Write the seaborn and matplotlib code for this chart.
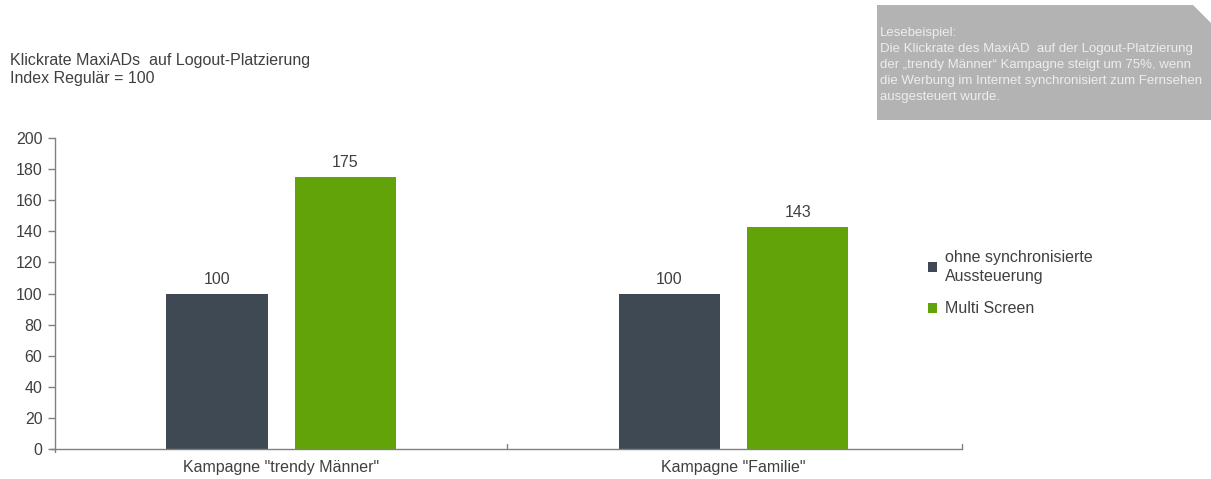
import matplotlib
matplotlib.use("Agg")
import matplotlib.pyplot as plt
import seaborn as sns
import pandas as pd
from matplotlib.patches import Polygon

categories = ['Kampagne "trendy Männer"', 'Kampagne "Familie"']
series_names = ["ohne synchronisierte\nAussteuerung", "Multi Screen"]
values_ohne = [100, 100]
values_multi = [175, 143]
yticks = [0, 20, 40, 60, 80, 100, 120, 140, 160, 180, 200]
colors = ["#3F4953", "#62A30A"]

sns.set_theme(style="white")
plt.rcParams["font.family"] = ["Liberation Sans", "DejaVu Sans"]

df = pd.DataFrame({
    "cat": categories * 2,
    "series": [series_names[0]] * 2 + [series_names[1]] * 2,
    "val": values_ohne + values_multi,
})

fig = plt.figure(figsize=(12.11, 4.79), dpi=100)
ax = fig.add_axes([0.0454, 0.0626, 0.749, 0.6493])

sns.barplot(data=df, x="cat", y="val", hue="series", palette=colors,
            width=0.567, gap=0.21, ax=ax, saturation=1, errorbar=None,
            linewidth=0, edgecolor="none")

for c in ax.containers:
    ax.bar_label(c, fmt="%d", padding=5, fontsize=11.5, color="#404040")

ax.set_ylim(0, 200)
ax.set_xlim(-0.5, 1.505)
ax.set_yticks(yticks)
ax.set_xticks([0, 1])
ax.set_xticklabels(categories)
ax.set_xlabel("")
ax.set_ylabel("")
for s in ["top", "right"]:
    ax.spines[s].set_visible(False)
for s in ["left", "bottom"]:
    ax.spines[s].set_color("#808080")
    ax.spines[s].set_linewidth(1.0)
ax.spines["bottom"].set_bounds(-0.508, 1.505)
ax.tick_params(axis="y", which="both", left=True, length=5, width=1, color="#808080",
               labelsize=11.5, labelcolor="#404040", pad=4)
ax.tick_params(axis="x", bottom=False, labelsize=11.5, labelcolor="#404040", pad=2)
# category separator ticks
for xp in [0.5, 1.505]:
    ax.plot([xp, xp], [0, 3], color="#808080", lw=1, clip_on=False)
ax.plot([-0.5, -0.5], [0, -2], color="#808080", lw=1, clip_on=False)

leg = ax.legend(loc="upper left", bbox_to_anchor=(0.955, 0.66), frameon=False,
                fontsize=11.5, handlelength=0.6, handleheight=0.6, handletextpad=0.5,
                labelspacing=1.1, borderaxespad=0)
for t in leg.get_texts():
    t.set_color("#404040")
    t.set_linespacing(1.3)

fig.text(10 / 1211, 1 - 60 / 479, "Klickrate MaxiADs  auf Logout-Platzierung",
         fontsize=11.5, color="#404040", va="center", ha="left")
fig.text(10 / 1211, 1 - 79 / 479, "Index Regulär = 100",
         fontsize=11.5, color="#404040", va="center", ha="left")

W, H = 1211, 479
pts = [(877, 5), (1193, 5), (1211, 23), (1211, 120), (877, 120)]
poly = Polygon([(x / W, 1 - y / H) for x, y in pts], closed=True,
               transform=fig.transFigure, facecolor="#B3B3B3", edgecolor="none")
fig.patches.append(poly)
fig.text(880 / W, 1 - 27 / H,
         "Lesebeispiel:\nDie Klickrate des MaxiAD  auf der Logout-Platzierung\n"
         "der „trendy Männer“ Kampagne steigt um 75%, wenn\n"
         "die Werbung im Internet synchronisiert zum Fernsehen\n"
         "ausgesteuert wurde.",
         fontsize=9.5, color="#EDEDED", va="top", ha="left", linespacing=1.45)

fig.savefig("out.png", dpi=100)
